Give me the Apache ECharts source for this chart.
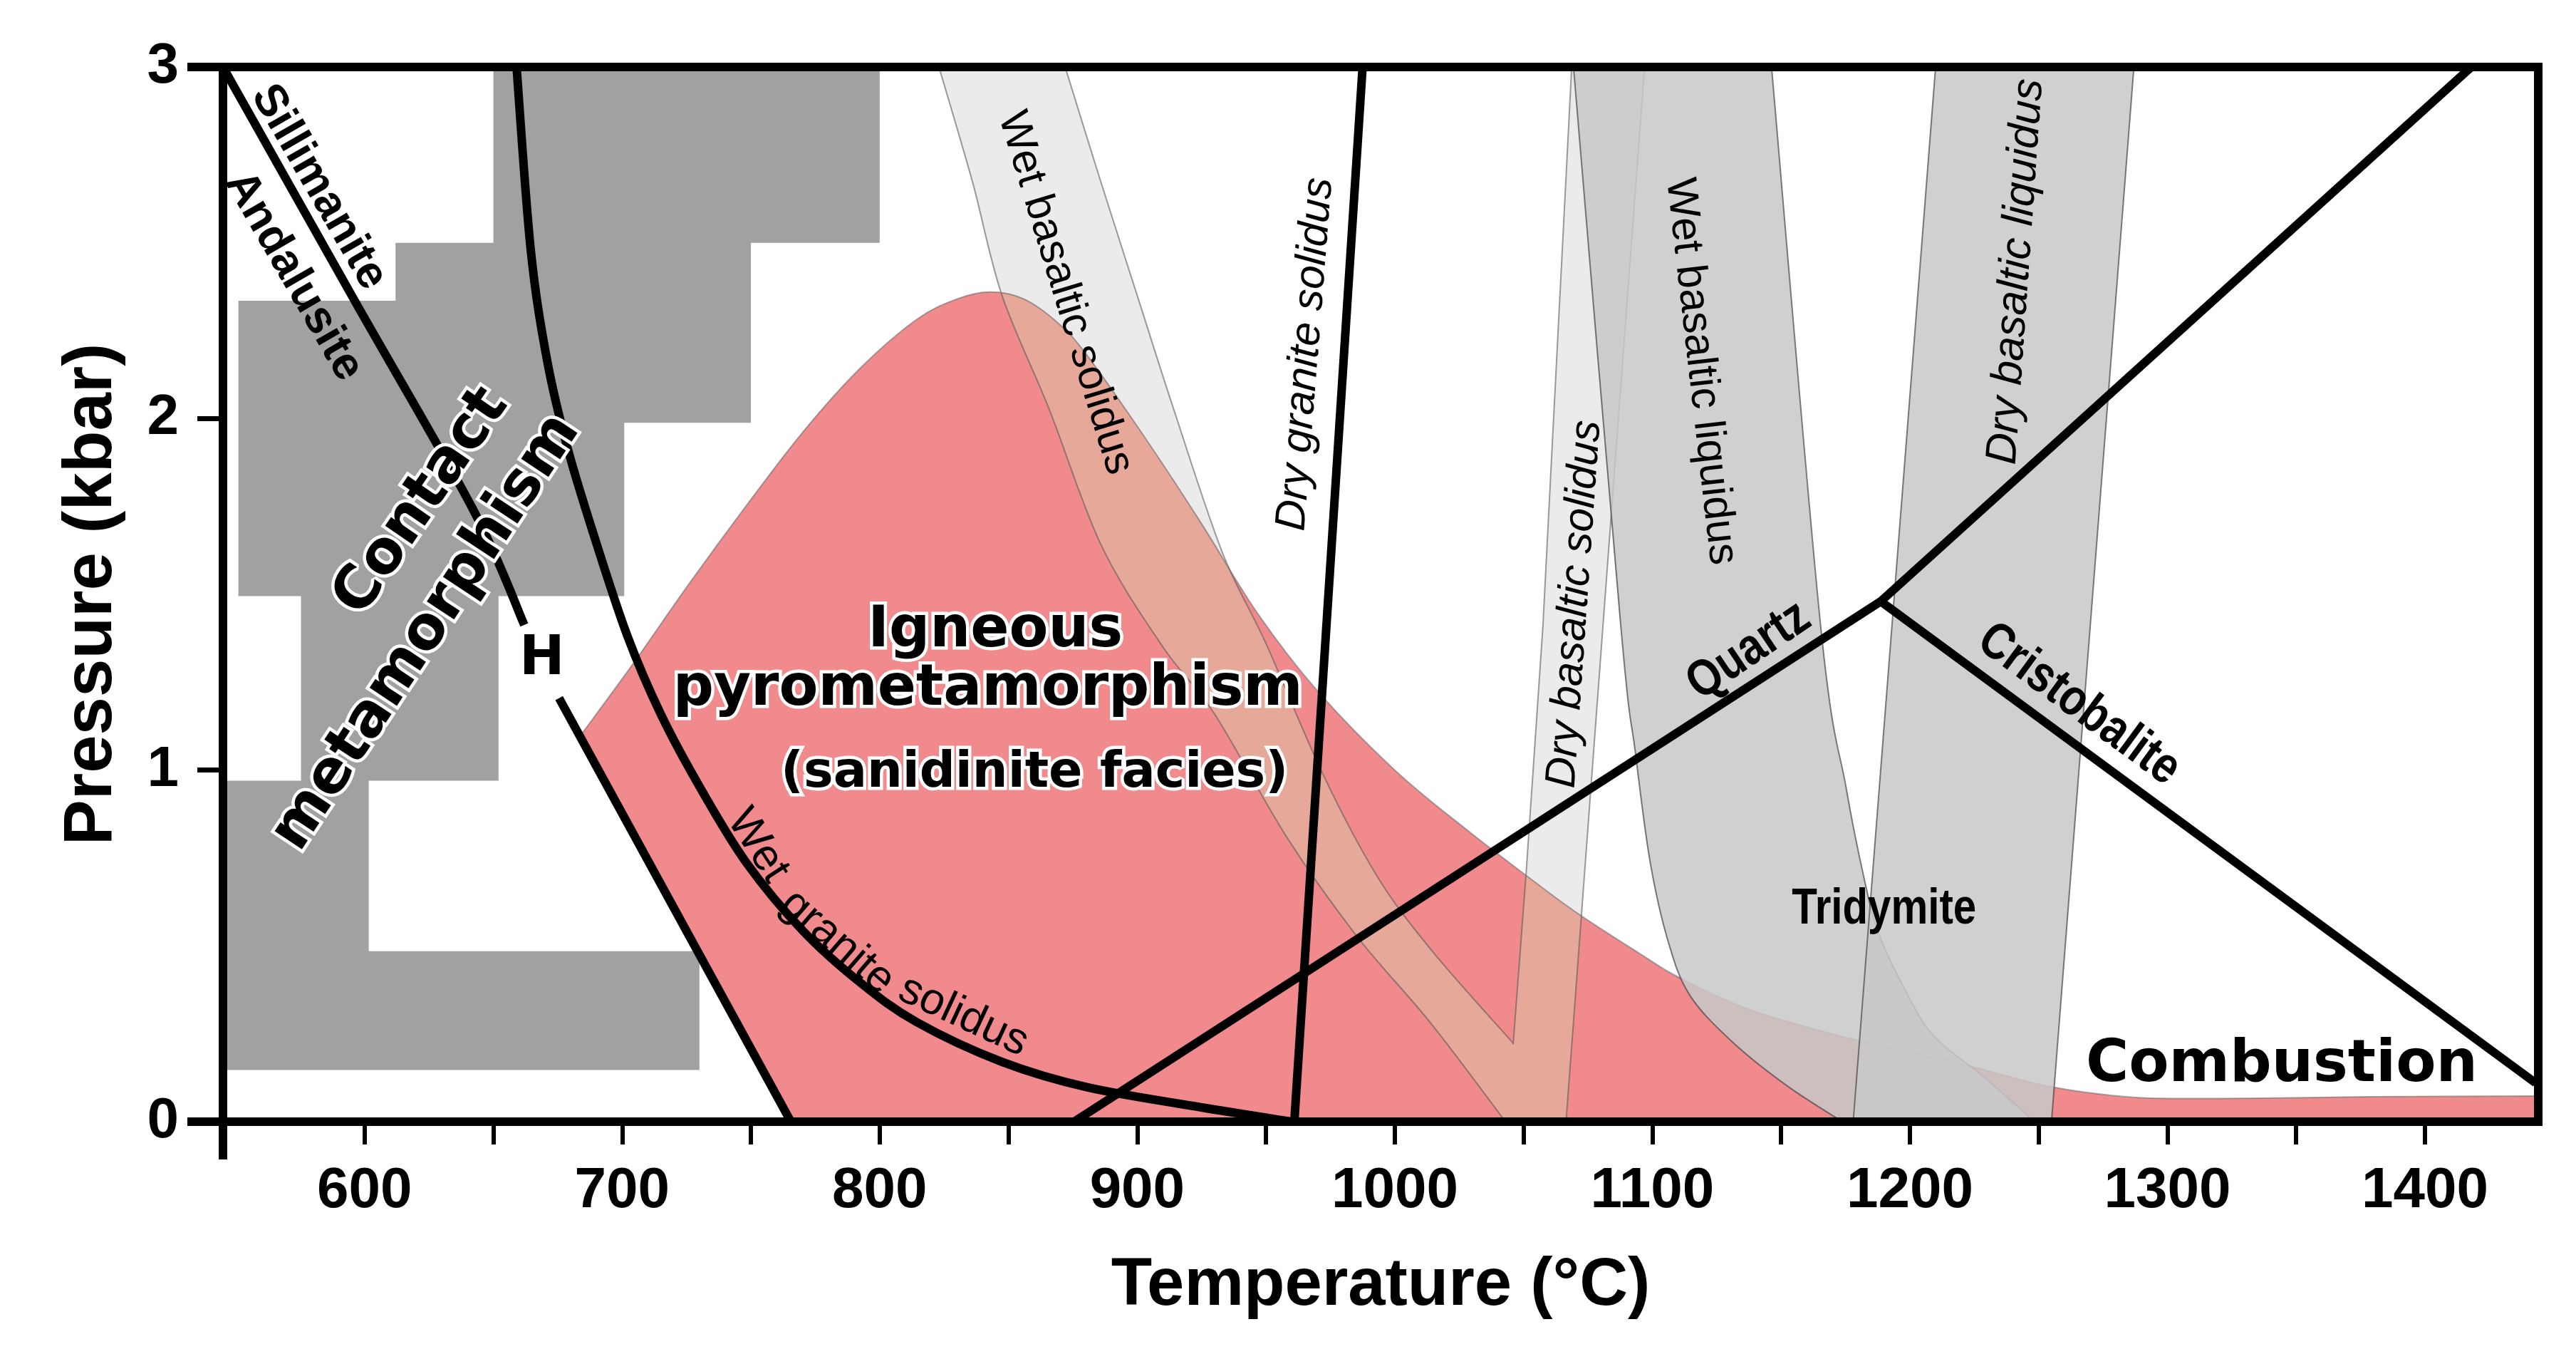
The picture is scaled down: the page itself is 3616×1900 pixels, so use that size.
<!DOCTYPE html>
<html>
<head>
<meta charset="utf-8">
<title>Pyrometamorphism P-T diagram</title>
<script src="https://cdn.jsdelivr.net/npm/echarts@6/dist/echarts.min.js"></script>
<style>
  html, body { margin: 0; padding: 0; background: #fff; }
  #main { width: 3616px; height: 1900px; }
</style>
</head>
<body>
<div id="main"></div>
<script>
// ---------- axes ----------
var tMin = 545, tMax = 1444;
var tempTicks = [600, 650, 700, 750, 800, 850, 900, 950, 1000, 1050, 1100, 1150, 1200, 1250, 1300, 1350, 1400];
var tempLabels = [600, 700, 800, 900, 1000, 1100, 1200, 1300, 1400];
var pressureTicks = [1, 2];
var pressureLabels = [0, 1, 2, 3];

// ---------- regions (temperature degC, pressure kbar) ----------
// contact metamorphism staircase
var contactMetamorphism = [
  [650, 3.0], [800, 3.0], [800, 2.5], [750, 2.5], [750, 1.988], [700.8, 1.988],
  [700.8, 1.495], [652, 1.495], [652, 0.97], [601.6, 0.97], [601.6, 0.485], [730, 0.485],
  [730, 0.147], [545, 0.147], [545, 0.97], [575.3, 0.97], [575.3, 1.495], [551, 1.495],
  [551, 2.335], [612, 2.335], [612, 2.5], [650, 2.5]
];
// igneous pyrometamorphism field
var pyroLeftEdge = [[765.5, 0], [684, 1.10]];
var pyroTopEdge = [
  [684, 1.10], [704, 1.30], [726, 1.53], [748, 1.75], [770, 1.96], [792, 2.14], [814, 2.28],
  [830, 2.34], [843, 2.36], [856, 2.34], [869.5, 2.27], [880.5, 2.18], [902.6, 1.95],
  [924.6, 1.705], [946.6, 1.447], [970, 1.225], [1000, 1.0], [1028, 0.83], [1056.5, 0.67],
  [1072.3, 0.586], [1096.2, 0.473], [1110.4, 0.41], [1138.6, 0.317], [1180.9, 0.229],
  [1218.7, 0.167], [1250.5, 0.106], [1272, 0.08], [1293.4, 0.067], [1336, 0.067],
  [1379, 0.071], [1444, 0.073]
];
// wet basaltic solidus band + dry basaltic solidus band
var wetBasSolidusLeft = [
  [823, 3.0], [836, 2.674], [847.5, 2.35], [865.8, 2.027], [886, 1.64], [910, 1.35],
  [930, 1.16], [958, 0.81], [985, 0.53], [1014, 0.28], [1043, 0]
];
var wetBasSolidusRight = [
  [872, 3.0], [886, 2.67], [900, 2.35], [914, 2.03], [933, 1.62], [950, 1.36],
  [972, 0.99], [993, 0.70], [1014, 0.49], [1046, 0.223]
];
var dryBasSolidusLeft = [[1068.7, 3.0], [1057.5, 1.407], [1051, 0.707], [1046, 0.223]];
var dryBasSolidusRight = [[1066.5, 0], [1097, 3.0]];
// basaltic liquidus bands
var wetBasLiquidusLeft = [
  [1069.4, 3.0], [1087.8, 1.407], [1093.4, 1.052], [1099.1, 0.741], [1106.1, 0.514],
  [1114.6, 0.359], [1131.5, 0.224], [1152.7, 0.10], [1173.8, 0]
];
var wetBasLiquidusRight = [
  [1146.3, 3.0], [1165.4, 1.407], [1175.3, 0.948], [1182.3, 0.69], [1187.9, 0.535],
  [1197.8, 0.38], [1209.1, 0.245], [1229.1, 0.125], [1248.4, 0]
];
var dryBasLiquidus = [[1210, 3.0], [1287, 3.0], [1255, 0], [1178, 0]];

// ---------- curves ----------
var andSilUpper = [[545, 3.0], [596, 2.337], [642, 1.743], [662, 1.413]];
var andSilLower = [[675.5, 1.205], [765.5, 0]];
var wetGraniteSolidus = [
  [659, 3.0], [664.5, 2.48], [671, 2.16], [678.8, 1.916], [688.8, 1.673], [702, 1.382],
  [715.2, 1.156], [730.6, 0.946], [748.3, 0.736], [770.3, 0.542], [792.4, 0.396],
  [814.4, 0.283], [847.5, 0.17], [880.5, 0.098], [924.6, 0.041], [960, 0]
];
var dryGraniteSolidus = [[961, 0], [987.5, 3.0]];
var quartzBoundary = [[875.5, 0], [1188.7, 1.48]];
var tridymiteBoundary = [[1188.7, 1.48], [1418, 3.0]];
var cristobaliteBoundary = [[1188.7, 1.48], [1443, 0.11]];

// ---------- labels ----------
var labelItems = [
  [582.2, 2.658, 'Sillimanite'],
  [572.4, 2.405, 'Andalusite'],
  [622.3, 1.762, 'Contact'],
  [624.1, 1.391, 'metamorphism'],
  [668.9, 1.314, 'H'],
  [844.9, 1.395, 'Igneous'],
  [842.0, 1.228, 'pyrometamorphism'],
  [860.1, 0.990, '(sanidinite facies)'],
  [752.7, 0.785, 'Wet'],
  [783.6, 0.510, 'granite'],
  [832.5, 0.300, 'solidus'],
  [872.0, 2.357, 'Wet basaltic solidus'],
  [965.5, 2.183, 'Dry granite solidus'],
  [1070.0, 1.472, 'Dry basaltic solidus'],
  [1118.8, 2.134, 'Wet basaltic liquidus'],
  [1241.4, 2.418, 'Dry basaltic liquidus'],
  [1137.5, 1.339, 'Quartz'],
  [1265.6, 1.186, 'Cristobalite'],
  [1190.0, 0.604, 'Tridymite'],
  [1344.4, 0.158, 'Combustion']
];

var SANS = "'Liberation Sans', Arial, sans-serif";
var WIDE = "'DejaVu Sans', sans-serif";

// look of each label, same order as labelItems (sx = horizontal squeeze)
var labelLook = [
  { rot: -60, size: 64, weight: 'bold', family: SANS },
  { rot: -60, size: 64, weight: 'bold', family: SANS },
  { rot: 55.5, size: 84, weight: 'bold', family: WIDE, halo: true },
  { rot: 56.5, size: 84, weight: 'bold', family: WIDE, halo: true },
  { rot: 0, size: 76, weight: 'bold', family: WIDE, halo: true },
  { rot: 0, size: 80, weight: 'bold', family: WIDE, halo: true },
  { rot: 0, size: 80, weight: 'bold', family: WIDE, halo: true },
  { rot: 0, size: 70, weight: 'bold', family: WIDE, halo: true },
  { rot: -57, size: 62, weight: 'normal', family: SANS },
  { rot: -41, size: 62, weight: 'normal', family: SANS },
  { rot: -25, size: 62, weight: 'normal', family: SANS },
  { rot: -73, size: 60, weight: 'normal', family: SANS },
  { rot: 85.5, size: 60, weight: 'normal', family: SANS, italic: true },
  { rot: 86, size: 60, weight: 'normal', family: SANS, italic: true },
  { rot: -83.5, size: 60, weight: 'normal', family: SANS },
  { rot: 86, size: 61, weight: 'normal', family: SANS, italic: true },
  { rot: 34, size: 72, weight: 'bold', family: SANS, sx: 0.84 },
  { rot: -36.3, size: 72, weight: 'bold', family: SANS, sx: 0.84 },
  { rot: 0, size: 71, weight: 'bold', family: SANS, sx: 0.82 },
  { rot: 0, size: 82, weight: 'bold', family: WIDE }
];

// ---------- helpers ----------
function toPx(api, pts) {
  return pts.map(function (p) { return api.coord(p); });
}
// Catmull-Rom through the points, current point must be px[0]
function curveTo(px) {
  var d = '';
  for (var i = 0; i < px.length - 1; i++) {
    var p0 = px[i - 1] || px[i], p1 = px[i], p2 = px[i + 1], p3 = px[i + 2] || px[i + 1];
    d += ' C' + (p1[0] + (p2[0] - p0[0]) / 6) + ' ' + (p1[1] + (p2[1] - p0[1]) / 6) +
         ' ' + (p2[0] - (p3[0] - p1[0]) / 6) + ' ' + (p2[1] - (p3[1] - p1[1]) / 6) +
         ' ' + p2[0] + ' ' + p2[1];
  }
  return d;
}
function lineTo(px) {
  return px.map(function (p) { return ' L' + p[0] + ' ' + p[1]; }).join('');
}
function moveTo(p) { return 'M' + p[0] + ' ' + p[1]; }

function pyroPath(api) {
  var left = toPx(api, pyroLeftEdge);
  var top = toPx(api, pyroTopEdge);
  return moveTo(left[0]) + lineTo(left.slice(1)) + curveTo(top) +
    lineTo([api.coord([tMax, 0])]) + ' Z';
}
function pyroOutline(api) {
  var top = toPx(api, pyroTopEdge);
  return moveTo(top[0]) + curveTo(top);
}
// union outline of the wet and dry basaltic solidus bands
function basSolidusPath(api) {
  var wl = toPx(api, wetBasSolidusLeft);
  var dr = toPx(api, dryBasSolidusRight);
  var dl = toPx(api, dryBasSolidusLeft);
  var wr = toPx(api, wetBasSolidusRight.slice().reverse());
  return moveTo(wl[0]) + curveTo(wl) + lineTo(dr) + lineTo(dl) + curveTo(wr) + ' Z';
}
function wetLiquidusPath(api) {
  var l = toPx(api, wetBasLiquidusLeft);
  var r = toPx(api, wetBasLiquidusRight.slice().reverse());
  return moveTo(l[0]) + curveTo(l) + lineTo([r[0]]) + curveTo(r) + ' Z';
}
function polygonPath(pts) {
  return function (api) {
    var px = toPx(api, pts);
    return moveTo(px[0]) + lineTo(px.slice(1)) + ' Z';
  };
}
function curvePath(pts) {
  return function (api) {
    var px = toPx(api, pts);
    return moveTo(px[0]) + curveTo(px);
  };
}

function areaSeries(name, data, z, buildPath, style, clipBuild) {
  return {
    name: name, type: 'custom', z: z, clip: true, silent: true,
    data: data,
    renderItem: function (params, api) {
      if (params.dataIndex !== 0) return null;
      var el = { type: 'path', shape: { pathData: buildPath(api) }, style: style };
      if (clipBuild) el.clipPath = { type: 'path', shape: { pathData: clipBuild(api) } };
      return el;
    }
  };
}
var curveStyle = { fill: null, stroke: '#000', lineWidth: 12, lineCap: 'butt', lineJoin: 'round' };
function curveSeries(name, data) {
  return areaSeries(name, data, 6, curvePath(data), curveStyle);
}

var myChart = echarts.init(document.getElementById('main'), null, { renderer: 'canvas' });

var axisNameStyle = { fontFamily: SANS, fontWeight: 'bold', fontSize: 94, color: '#000' };
var tickLabelStyle = { fontFamily: SANS, fontWeight: 'bold', fontSize: 80, color: '#000' };
function plain(v) { return String(v); }
var bandEdge = 'rgba(90,90,90,0.6)';
var liquidusStyle = { fill: 'rgba(200,200,200,0.85)', stroke: 'rgba(70,70,70,0.7)', lineWidth: 2 };

var option = {
  animation: false,
  backgroundColor: '#fff',
  grid: { left: 313, right: 53, top: 94, bottom: 326, containLabel: false, outerBoundsMode: 'none' },
  xAxis: [
    {
      type: 'value', min: tMin, max: tMax, position: 'bottom', z: 10,
      axisLine: { show: true, onZero: false, lineStyle: { color: '#000', width: 12, cap: 'square' } },
      axisTick: { show: true, customValues: tempTicks, length: 32, lineStyle: { color: '#000', width: 6 } },
      axisLabel: Object.assign({ show: true, customValues: tempLabels, margin: 58, formatter: plain }, tickLabelStyle),
      splitLine: { show: false },
      name: 'Temperature (°C)', nameLocation: 'middle', nameGap: 184,
      nameTextStyle: axisNameStyle
    },
    {
      type: 'value', min: tMin, max: tMax, position: 'bottom', z: 10,
      axisLine: { show: false },
      axisTick: { show: true, customValues: [tMin], length: 53, lineStyle: { color: '#000', width: 12 } },
      axisLabel: { show: false }, splitLine: { show: false }
    },
    {
      type: 'value', min: tMin, max: tMax, position: 'top', z: 10,
      axisLine: { show: true, onZero: false, lineStyle: { color: '#000', width: 12, cap: 'square' } },
      axisTick: { show: false }, axisLabel: { show: false }, splitLine: { show: false }
    }
  ],
  yAxis: [
    {
      type: 'value', min: 0, max: 3, position: 'left', z: 10,
      axisLine: { show: true, onZero: false, lineStyle: { color: '#000', width: 12, cap: 'square' } },
      axisTick: { show: true, customValues: pressureTicks, length: 36, lineStyle: { color: '#000', width: 7 } },
      axisLabel: Object.assign({ show: true, customValues: pressureLabels, margin: 62, formatter: plain }, tickLabelStyle),
      splitLine: { show: false },
      name: 'Pressure (kbar)', nameLocation: 'middle', nameRotate: 90, nameGap: 135,
      nameTextStyle: Object.assign({}, axisNameStyle, { fontSize: 96 })
    },
    {
      type: 'value', min: 0, max: 3, position: 'left', z: 10,
      axisLine: { show: false },
      axisTick: { show: true, customValues: [0, 3], length: 50, lineStyle: { color: '#000', width: 12 } },
      axisLabel: { show: false }, splitLine: { show: false }
    },
    {
      type: 'value', min: 0, max: 3, position: 'right', z: 10,
      axisLine: { show: true, onZero: false, lineStyle: { color: '#000', width: 12, cap: 'square' } },
      axisTick: { show: false }, axisLabel: { show: false }, splitLine: { show: false }
    }
  ],
  series: [
    areaSeries('Contact metamorphism', contactMetamorphism, 1, polygonPath(contactMetamorphism),
      { fill: '#a1a1a1' }),

    // solidus bands on white, below the pink field
    areaSeries('Basaltic solidus', wetBasSolidusLeft, 1, basSolidusPath,
      { fill: '#ebebeb', stroke: bandEdge, lineWidth: 2 }),

    areaSeries('Igneous pyrometamorphism', pyroTopEdge, 2, pyroPath, { fill: '#f08a8c' }),

    // the same bands where they lie on the pink field
    areaSeries('Basaltic solidus on field', wetBasSolidusRight, 3, basSolidusPath,
      { fill: '#e6a899', stroke: bandEdge, lineWidth: 2 }, pyroPath),

    areaSeries('Igneous pyrometamorphism outline', pyroLeftEdge, 3, pyroOutline,
      { fill: null, stroke: 'rgba(110,110,110,0.6)', lineWidth: 2 }),

    areaSeries('Wet basaltic liquidus', wetBasLiquidusLeft, 4, wetLiquidusPath, liquidusStyle),
    areaSeries('Dry basaltic liquidus', dryBasLiquidus, 4, polygonPath(dryBasLiquidus), liquidusStyle),

    curveSeries('Andalusite-Sillimanite', andSilUpper),
    curveSeries('Andalusite-Sillimanite 2', andSilLower),
    curveSeries('Wet granite solidus', wetGraniteSolidus),
    curveSeries('Dry granite solidus', dryGraniteSolidus),
    curveSeries('Quartz', quartzBoundary),
    curveSeries('Tridymite', tridymiteBoundary),
    curveSeries('Cristobalite', cristobaliteBoundary),

    {
      name: 'labels', type: 'custom', z: 8, clip: false, silent: true,
      data: labelItems.map(function (d) { return [d[0], d[1]]; }),
      renderItem: function (params, api) {
        var item = labelItems[params.dataIndex];
        var look = labelLook[params.dataIndex];
        var pt = api.coord([api.value(0), api.value(1)]);
        var base = {
          text: item[2], fontFamily: look.family, fontSize: look.size,
          fontWeight: look.weight, fontStyle: look.italic ? 'italic' : 'normal',
          align: 'center', verticalAlign: 'middle'
        };
        var children = [];
        if (look.halo) {
          children.push({ type: 'text', style: Object.assign({}, base, { fill: '#fff', stroke: '#fff', lineWidth: 9, lineJoin: 'round' }) });
        }
        children.push({ type: 'text', style: Object.assign({}, base, { fill: '#000' }) });
        return {
          type: 'group', x: pt[0], y: pt[1], rotation: look.rot * Math.PI / 180,
          scaleX: look.sx || 1, children: children
        };
      }
    }
  ]
};

myChart.setOption(option);
</script>
</body>
</html>
